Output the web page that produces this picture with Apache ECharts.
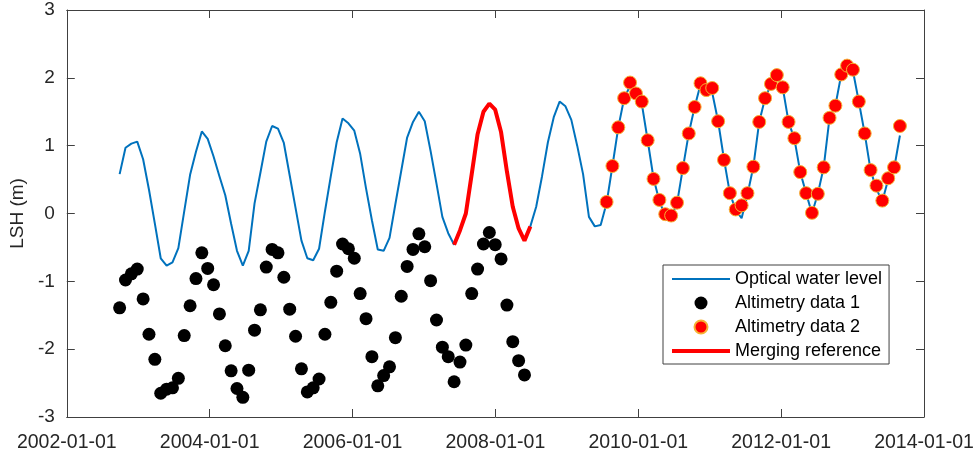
<!DOCTYPE html>
<html>
<head>
<meta charset="utf-8">
<script src="https://cdn.jsdelivr.net/npm/echarts@6/dist/echarts.min.js"></script>
<style>
html, body { margin: 0; padding: 0; background: #fff; }
#chart { width: 977px; height: 454px; }
</style>
</head>
<body>
<div id="chart"></div>
<script>
// sampling: one value every 30 days, starting at the first optical point
var startDate = Date.UTC(2002, 8, 28);
var stepDays = 30;

// optical water level (m), one per sample
var optical = [
  0.58, 0.97, 1.03, 1.06, 0.80, 0.35, -0.15, -0.66, -0.77, -0.72,
  -0.51, 0.03, 0.57, 0.91, 1.21, 1.10, 0.84, 0.55, 0.27, -0.15,
  -0.55, -0.77, -0.55, 0.15, 0.60, 1.06, 1.29, 1.25, 1.04, 0.56,
  0.08, -0.40, -0.66, -0.69, -0.52, 0.03, 0.55, 1.05, 1.40, 1.33,
  1.22, 0.88, 0.37, -0.10, -0.53, -0.55, -0.36, 0.14, 0.63, 1.12,
  1.35, 1.50, 1.36, 0.92, 0.44, -0.05, -0.29, -0.46, -0.25, 0.00,
  0.58, 1.17, 1.50, 1.62, 1.53, 1.20, 0.62, 0.10, -0.22, -0.40,
  -0.19, 0.10, 0.55, 1.05, 1.42, 1.65, 1.58, 1.38, 1.00, 0.58,
  -0.05, -0.19, -0.17, 0.15, 0.70, 1.27, 1.70, 1.88, 1.77, 1.62,
  1.08, 0.52, 0.18, -0.03, -0.05, 0.15, 0.67, 1.18, 1.57, 1.90,
  1.84, 1.78, 1.36, 0.80, 0.30, 0.05, -0.07, 0.28, 0.69, 1.35,
  1.70, 1.90, 2.02, 1.86, 1.35, 1.10, 0.61, 0.30, 0.00, 0.29,
  0.68, 1.41, 1.59, 2.05, 2.16, 2.10, 1.65, 1.18, 0.64, 0.36,
  0.18, 0.50, 0.66, 1.15
];

// altimetry data 1 starts at sample 0
var alt1Start = 0;
var alt1 = [
  -1.39, -0.98, -0.89, -0.82, -1.26, -1.78, -2.15, -2.65, -2.59, -2.57,
  -2.43, -1.80, -1.36, -0.96, -0.58, -0.81, -1.05, -1.48, -1.95, -2.32,
  -2.58, -2.71, -2.31, -1.72, -1.42, -0.79, -0.53, -0.58, -0.94, -1.41,
  -1.81, -2.29, -2.63, -2.57, -2.44, -1.78, -1.31, -0.85, -0.45, -0.52,
  -0.66, -1.18, -1.55, -2.11, -2.54, -2.39, -2.26, -1.83, -1.22, -0.78,
  -0.53, -0.30, -0.49, -0.99, -1.57, -1.97, -2.11, -2.48, -2.19, -1.94,
  -1.18, -0.82, -0.45, -0.28, -0.46, -0.67, -1.35, -1.89, -2.17, -2.38
];

// altimetry data 2 starts at sample 83
var alt2Start = 83;
var alt2 = [
  0.17, 0.70, 1.27, 1.70, 1.93, 1.77, 1.65, 1.08, 0.51, 0.20,
  -0.01, -0.03, 0.16, 0.67, 1.18, 1.57, 1.92, 1.82, 1.85, 1.36,
  0.79, 0.30, 0.06, 0.12, 0.30, 0.69, 1.35, 1.70, 1.91, 2.04,
  1.86, 1.35, 1.11, 0.61, 0.30, 0.01, 0.29, 0.68, 1.41, 1.59,
  2.05, 2.18, 2.12, 1.65, 1.18, 0.64, 0.41, 0.19, 0.52, 0.68,
  1.29
];

// merging reference = optical samples 57..70
var mergeFrom = 57;
var mergeTo = 70;

var xTicks = [2002, 2004, 2006, 2008, 2010, 2012, 2014];

// date of sample i as decimal year
function sampleYear(i) {
    var t = startDate + i * stepDays * 86400000;
    var y = new Date(t).getUTCFullYear();
    var y0 = Date.UTC(y, 0, 1), y1 = Date.UTC(y + 1, 0, 1);
    return y + (t - y0) / (y1 - y0);
}

function toPoints(vals, offset) {
    var out = [];
    for (var i = 0; i < vals.length; i++) {
        out.push([sampleYear(offset + i), vals[i]]);
    }
    return out;
}

var axisColor = '#404040';
var font = 'Liberation Sans, Arial, sans-serif';

var myChart = echarts.init(document.getElementById('chart'));
var option = {
    animation: false,
    backgroundColor: '#fff',
    grid: { left: 64, right: 53, top: 10, bottom: 37 },
    legend: {
        orient: 'vertical',
        left: 663,
        top: 265,
        itemWidth: 58,
        itemHeight: 13,
        itemGap: 4,
        padding: [4, 7, 3, 7],
        borderColor: axisColor,
        borderWidth: 1,
        borderRadius: 0,
        backgroundColor: '#fff',
        textStyle: { fontSize: 18, color: '#000', fontFamily: font, lineHeight: 20 },
        data: [
            { name: 'Optical water level', itemStyle: { opacity: 0 }, lineStyle: { width: 2 } },
            'Altimetry data 1',
            'Altimetry data 2',
            { name: 'Merging reference', itemStyle: { opacity: 0 }, lineStyle: { width: 4 } }
        ]
    },
    xAxis: [
        {
            type: 'value',
            min: xTicks[0],
            max: xTicks[xTicks.length - 1],
            interval: 2,
            axisLine: { onZero: false, lineStyle: { color: axisColor } },
            axisTick: { inside: true, length: 8, lineStyle: { color: axisColor } },
            axisLabel: {
                fontSize: 19.5, color: '#262626', fontFamily: font, margin: 16,
                formatter: function (v) { return v + '-01-01'; }
            },
            splitLine: { show: false }
        },
        {
            type: 'value',
            position: 'top',
            min: xTicks[0],
            max: xTicks[xTicks.length - 1],
            interval: 2,
            axisLine: { onZero: false, lineStyle: { color: axisColor } },
            axisTick: { inside: true, length: 8, lineStyle: { color: axisColor } },
            axisLabel: { show: false },
            splitLine: { show: false }
        }
    ],
    yAxis: [
        {
            type: 'value',
            min: -3,
            max: 3,
            interval: 1,
            name: 'LSH (m)',
            nameLocation: 'middle',
            nameGap: 34,
            nameTextStyle: { fontSize: 19, color: '#262626', fontFamily: font },
            axisLine: { show: true, onZero: false, lineStyle: { color: axisColor } },
            axisTick: { show: true, inside: true, length: 8, lineStyle: { color: axisColor } },
            axisLabel: { fontSize: 19, color: '#262626', fontFamily: font, margin: 12 },
            splitLine: { show: false }
        },
        {
            type: 'value',
            position: 'right',
            min: -3,
            max: 3,
            interval: 1,
            axisLine: { show: true, onZero: false, lineStyle: { color: axisColor } },
            axisTick: { show: true, inside: true, length: 8, lineStyle: { color: axisColor } },
            axisLabel: { show: false },
            splitLine: { show: false }
        }
    ],
    series: [
        {
            name: 'Optical water level',
            type: 'line',
            symbol: 'none',
            z: 2,
            lineStyle: { color: '#0072BD', width: 2 },
            itemStyle: { color: '#0072BD' },
            data: toPoints(optical, 0)
        },
        {
            name: 'Altimetry data 1',
            type: 'scatter',
            symbolSize: 13,
            z: 3,
            itemStyle: { color: '#000', opacity: 1 },
            data: toPoints(alt1, alt1Start)
        },
        {
            name: 'Merging reference',
            type: 'line',
            symbol: 'none',
            z: 3,
            lineStyle: { color: '#ff0000', width: 4 },
            itemStyle: { color: '#ff0000' },
            data: toPoints(optical.slice(mergeFrom, mergeTo + 1), mergeFrom)
        },
        {
            name: 'Altimetry data 2',
            type: 'scatter',
            symbolSize: 13,
            z: 4,
            itemStyle: { color: '#ff0000', borderColor: '#f5b335', borderWidth: 1, opacity: 1 },
            data: toPoints(alt2, alt2Start)
        }
    ]
};
myChart.setOption(option);
</script>
</body>
</html>
